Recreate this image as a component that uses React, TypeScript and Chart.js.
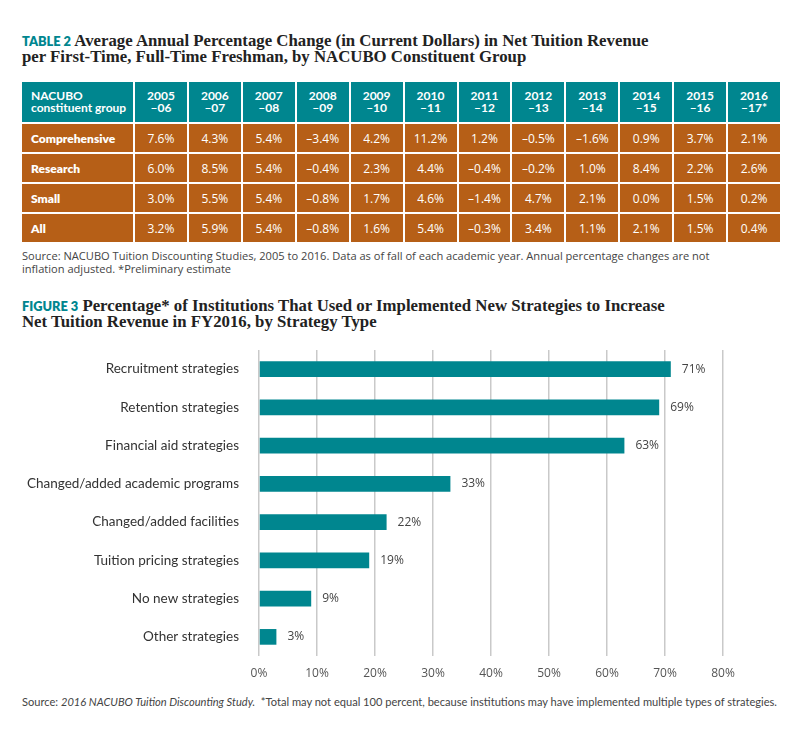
import React, { useEffect, useRef } from "react";
import { Chart, registerables } from "chart.js";
Chart.register(...registerables);

// ---------- Table 2 data ----------
const groups = ["Comprehensive", "Research", "Small", "All"];
const yearTop = ["2005", "2006", "2007", "2008", "2009", "2010", "2011", "2012", "2013", "2014", "2015", "2016"];
const yearBottom = ["–06", "–07", "–08", "–09", "–10", "–11", "–12", "–13", "–14", "–15", "–16", "–17*"];
const comprehensive = [7.6, 4.3, 5.4, -3.4, 4.2, 11.2, 1.2, -0.5, -1.6, 0.9, 3.7, 2.1];
const research = [6.0, 8.5, 5.4, -0.4, 2.3, 4.4, -0.4, -0.2, 1.0, 8.4, 2.2, 2.6];
const small = [3.0, 5.5, 5.4, -0.8, 1.7, 4.6, -1.4, 4.7, 2.1, 0.0, 1.5, 0.2];
const all = [3.2, 5.9, 5.4, -0.8, 1.6, 5.4, -0.3, 3.4, 1.1, 2.1, 1.5, 0.4];
const tableRows = [comprehensive, research, small, all];

// ---------- Figure 3 data ----------
const strategies = [
  "Recruitment strategies",
  "Retention strategies",
  "Financial aid strategies",
  "Changed/added academic programs",
  "Changed/added facilities",
  "Tuition pricing strategies",
  "No new strategies",
  "Other strategies",
];
const strategyPct = [71, 69, 63, 33, 22, 19, 9, 3];
const xTicks = [0, 10, 20, 30, 40, 50, 60, 70, 80];

const TEAL = "#00868f";
const ORANGE = "#b65f17";

const fmt = (v: number) => (v < 0 ? "–" + Math.abs(v).toFixed(1) : v.toFixed(1)) + "%";

const valueLabels = {
  id: "valueLabels",
  afterDatasetsDraw(chart: any) {
    const ctx = chart.ctx;
    const meta = chart.getDatasetMeta(0);
    ctx.save();
    ctx.font = "12px 'Open Sans'";
    ctx.fillStyle = "#444";
    ctx.textAlign = "left";
    ctx.textBaseline = "middle";
    meta.data.forEach((bar: any, i: number) => {
      ctx.fillText(strategyPct[i] + "%", bar.x + 11, bar.y);
    });
    ctx.restore();
  },
};

function BarChart() {
  const ref = useRef<HTMLCanvasElement>(null);
  useEffect(() => {
    if (!ref.current) return;
    const chart = new Chart(ref.current, {
      type: "bar",
      data: {
        labels: strategies,
        datasets: [
          {
            data: strategyPct,
            backgroundColor: TEAL,
            categoryPercentage: 1,
            barPercentage: 0.41,
          },
        ],
      },
      options: {
        indexAxis: "y",
        animation: false,
        responsive: false,
        maintainAspectRatio: false,
        layout: { padding: { top: 10, right: 77, left: 0, bottom: 0 } },
        plugins: { legend: { display: false }, tooltip: { enabled: false } },
        scales: {
          x: {
            min: 0,
            max: 80,
            afterBuildTicks: (s: any) => {
              s.ticks = xTicks.map((v) => ({ value: v }));
            },
            afterFit: (s: any) => {
              s.height = 26;
            },
            ticks: {
              padding: 10,
              color: "#555",
              font: { family: "'Open Sans'", size: 12 },
              callback: (v: any) => v + "%",
            },
            grid: { color: "#c9c9c9", lineWidth: 1.5, drawTicks: false, tickLength: 0 },
            border: { display: false },
          },
          y: {
            afterFit: (s: any) => {
              s.width = 259;
            },
            ticks: {
              padding: 0,
              color: "#333",
              font: { family: "Lato", size: 13.5 },
            },
            grid: { display: false, drawTicks: true, tickLength: 20 },
            border: { display: false },
          },
        },
      },
      plugins: [valueLabels],
    });
    return () => chart.destroy();
  }, []);
  return <canvas ref={ref} width={800} height={342} style={{ width: 800, height: 342, display: "block" }} />;
}

const serif = "'Liberation Serif', serif";
const sans = "Lato, 'Open Sans', sans-serif";

export default function App() {
  const cell: React.CSSProperties = {
    color: "#fff",
    display: "flex",
    alignItems: "center",
    justifyContent: "center",
    textAlign: "center",
  };
  const tag: React.CSSProperties = { fontFamily: sans, color: TEAL, fontSize: 12.8, fontWeight: 800 };
  return (
    <div style={{ position: "absolute", left: 0, top: 0, width: 800, height: 751, background: "#fff", overflow: "hidden" }}>
      <div style={{ position: "absolute", left: 22, top: 33, fontFamily: serif, fontWeight: 700, fontSize: 16.8, lineHeight: "15px", color: "#222", whiteSpace: "nowrap" }}>
        <span style={tag}>TABLE 2</span> Average Annual Percentage Change (in Current Dollars) in Net Tuition Revenue
        <br />
        per First-Time, Full-Time Freshman, by NACUBO Constituent Group
      </div>

      <div
        style={{
          position: "absolute",
          left: 22,
          top: 82,
          width: 758,
          display: "grid",
          gridTemplateColumns: "111px repeat(12, 1fr)",
          gridTemplateRows: "40px repeat(4, 28px)",
          gap: 2,
          fontFamily: sans,
          fontSize: 12,
        }}
      >
        <div style={{ ...cell, background: TEAL, justifyContent: "flex-start", textAlign: "left", paddingLeft: 9, fontWeight: 700, lineHeight: "12px" }}>
          NACUBO
          <br />
          constituent group
        </div>
        {yearTop.map((y, i) => (
          <div key={y} style={{ ...cell, background: TEAL, fontWeight: 700, lineHeight: "12px" }}>
            {y}
            <br />
            {yearBottom[i]}
          </div>
        ))}
        {tableRows.map((row, r) => (
          <React.Fragment key={groups[r]}>
            <div style={{ ...cell, background: ORANGE, justifyContent: "flex-start", paddingLeft: 9, fontWeight: 800 }}>{groups[r]}</div>
            {row.map((v, i) => (
              <div key={i} style={{ ...cell, background: ORANGE, fontFamily: "'Open Sans'", fontSize: 12 }}>
                {fmt(v)}
              </div>
            ))}
          </React.Fragment>
        ))}
      </div>

      <div style={{ position: "absolute", left: 22, top: 250, fontFamily: "'Open Sans'", fontSize: 11.1, lineHeight: "12.5px", color: "#444", whiteSpace: "nowrap" }}>
        Source: NACUBO Tuition Discounting Studies, 2005 to 2016. Data as of fall of each academic year. Annual percentage changes are not
        <br />
        inflation adjusted. *Preliminary estimate
      </div>

      <div style={{ position: "absolute", left: 22, top: 298, fontFamily: serif, fontWeight: 700, fontSize: 16.8, lineHeight: "15px", color: "#222", whiteSpace: "nowrap" }}>
        <span style={tag}>FIGURE 3</span> Percentage* of Institutions That Used or Implemented New Strategies to Increase
        <br />
        Net Tuition Revenue in FY2016, by Strategy Type
      </div>

      <div style={{ position: "absolute", left: 0, top: 340 }}>
        <BarChart />
      </div>

      <div style={{ position: "absolute", left: 22, top: 695, fontFamily: sans, fontSize: 11.1, lineHeight: "14px", color: "#444", whiteSpace: "nowrap" }}>
        Source: <i>2016 NACUBO Tuition Discounting Study.</i>&nbsp; *Total may not equal 100 percent, because institutions may have implemented multiple types of strategies.
      </div>
    </div>
  );
}
